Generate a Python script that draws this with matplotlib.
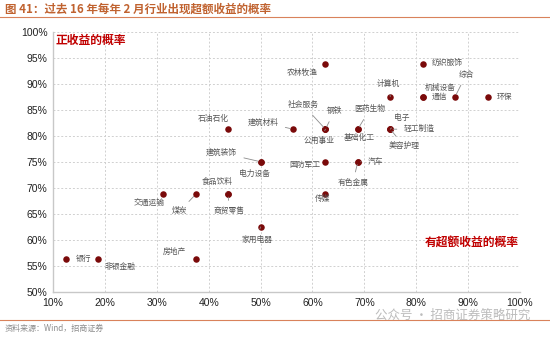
import matplotlib
matplotlib.use("Agg")
import matplotlib.pyplot as plt
from matplotlib.ticker import PercentFormatter

plt.rcParams['font.family'] = ['Noto Sans CJK SC', 'DejaVu Sans']

# ---- data ----
sectors = ['农林牧渔', '纺织服饰', '计算机', '通信', '机械设备', '综合', '环保',
           '石油石化', '建筑材料', '社会服务', '钢铁', '公用事业', '医药生物', '基础化工',
           '电子', '轻工制造', '美容护理', '建筑装饰', '电力设备', '国防军工', '汽车',
           '有色金属', '交通运输', '煤炭', '食品饮料', '商贸零售', '家用电器', '传媒',
           '银行', '非银金融', '房地产']
excess_prob = [0.625, 0.8125, 0.75, 0.8125, 0.8125, 0.875, 0.9375,
               0.4375, 0.5625, 0.625, 0.625, 0.625, 0.6875, 0.6875,
               0.75, 0.75, 0.75, 0.50, 0.50, 0.625, 0.6875,
               0.6875, 0.3125, 0.375, 0.4375, 0.4375, 0.50, 0.625,
               0.125, 0.1875, 0.375]
positive_prob = [0.9375, 0.9375, 0.875, 0.875, 0.875, 0.875, 0.875,
                 0.8125, 0.8125, 0.8125, 0.8125, 0.8125, 0.8125, 0.8125,
                 0.8125, 0.8125, 0.8125, 0.75, 0.75, 0.75, 0.75,
                 0.75, 0.6875, 0.6875, 0.6875, 0.6875, 0.625, 0.6875,
                 0.5625, 0.5625, 0.5625]
x_ticks = [0.1, 0.2, 0.3, 0.4, 0.5, 0.6, 0.7, 0.8, 0.9, 1.0]
y_ticks = [0.5, 0.55, 0.6, 0.65, 0.7, 0.75, 0.8, 0.85, 0.9, 0.95, 1.0]

# label layout: offset in pixels (dx, dy up), leader line flag
label_layout = {
    '农林牧渔': (-23, -9, False), '纺织服饰': (25, 0, False), '计算机': (-2, 13, True),
    '通信': (17, 0, False), '机械设备': (18, 9, False), '综合': (11, 22, True),
    '环保': (17, 0, False), '石油石化': (-15, 10, False), '建筑材料': (-30, 7, True),
    '社会服务': (-22, 24, True), '钢铁': (9, 18, True), '公用事业': (-6, -12, True),
    '医药生物': (12, 20, True), '基础化工': (1, -9, False), '电子': (11, 11, True),
    '轻工制造': (29, 0, True), '美容护理': (14, -17, True), '建筑装饰': (-39, 9, True),
    '电力设备': (-6, -12, False), '国防军工': (-21, -3, False), '汽车': (18, 0, True),
    '有色金属': (-5, -21, True), '交通运输': (-14, -10, False), '煤炭': (-16, -17, True),
    '食品饮料': (-11, 12, True), '商贸零售': (1, -17, True), '家用电器': (-4, -13, True),
    '传媒': (-3, -5, False), '银行': (17, 0, False), '非银金融': (22, -8, False),
    '房地产': (-21, 8, False),
}

W, H = 550, 337
fig = plt.figure(figsize=(W / 100, H / 100), dpi=100)
ax = fig.add_axes([53 / W, 1 - 292 / H, (520 - 53) / W, (292 - 31.5) / H])

ax.scatter(excess_prob, positive_prob, s=22, color='#7A0A0A', zorder=3, linewidths=0)

ax.set_xlim(0.1, 1.0)
ax.set_ylim(0.5, 1.0)
ax.set_xticks(x_ticks)
ax.set_yticks(y_ticks)
ax.xaxis.set_major_formatter(PercentFormatter(1.0, decimals=0))
ax.yaxis.set_major_formatter(PercentFormatter(1.0, decimals=0))
for lab in ax.get_xticklabels() + ax.get_yticklabels():
    lab.set_family(['Liberation Sans', 'DejaVu Sans'])
    lab.set_fontsize(7.5)
    lab.set_color('#222222')
ax.tick_params(length=0, pad=4)
ax.grid(True, color='#D0D0D0', linestyle=(0, (2, 2)), linewidth=0.7)
for s in ['top', 'right']:
    ax.spines[s].set_visible(False)
for s in ['left', 'bottom']:
    ax.spines[s].set_color('#C8C8C8')
    ax.spines[s].set_linewidth(1.0)

for name, xv, yv in zip(sectors, excess_prob, positive_prob):
    dx, dy, lead = label_layout[name]
    kw = {}
    if lead:
        kw['arrowprops'] = dict(arrowstyle='-', color='#8C8C8C', lw=0.6,
                                shrinkA=3, shrinkB=2)
    ax.annotate(name, (xv, yv), xytext=(dx, dy), textcoords='offset pixels',
                ha='center', va='center', fontsize=5.6, color='#555555', zorder=4, **kw)

ax.text(0.005, 0.965, '正收益的概率', transform=ax.transAxes, ha='left', va='center',
        fontsize=8.5, color='#C00000', fontweight='bold')
ax.text(0.998, 0.19, '有超额收益的概率', transform=ax.transAxes, ha='right', va='center',
        fontsize=8.5, color='#C00000', fontweight='bold')

# title, rules, source
fig.text(5 / W, 1 - 9 / H, '图 41：过去 16 年每年 2 月行业出现超额收益的概率', ha='left', va='center',
         fontsize=8.3, color='#C0622F', fontweight='bold')
fig.add_artist(plt.Line2D([0, 1], [1 - 17 / H, 1 - 17 / H], color='#D9825B', lw=0.8))
fig.add_artist(plt.Line2D([0, 1], [1 - 320 / H, 1 - 320 / H], color='#D9825B', lw=0.8))
fig.text(5 / W, 1 - 328 / H, '资料来源：Wind，招商证券', ha='left', va='center',
         fontsize=5.8, color='#8C8C8C')
fig.text(530 / W, 1 - 315 / H, '公众号 · 招商证券策略研究', ha='right', va='center',
         fontsize=9, color='#A0A0A0', alpha=0.7)

fig.savefig('out.png', dpi=100)
